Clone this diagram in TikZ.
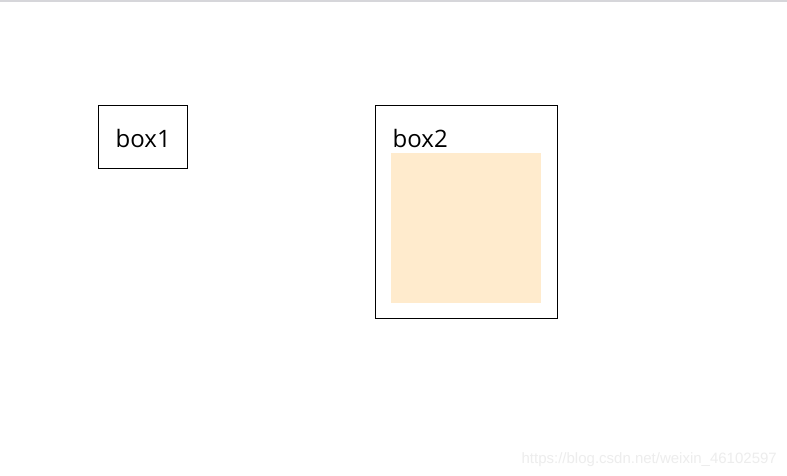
\documentclass[tikz,border=0pt]{standalone}
\usepackage{fontspec}
\setmainfont{Open Sans}
\newfontfamily\wmfont{Liberation Sans}
\definecolor{almond}{HTML}{FFEBCD}
\definecolor{topline}{HTML}{D6D6DA}
\definecolor{wmgray}{HTML}{EDEDED}
\tikzset{
  boxframe/.style={draw=black, line width=1pt},
  boxlabel/.style={anchor=base west, inner sep=0pt, font=\fontsize{24}{28}\selectfont, text=black},
}
\begin{document}
\begin{tikzpicture}[x=1pt, y=-1pt]
\useasboundingbox (0,0) rectangle (787,476);
\fill[white] (0,0) rectangle (787,476);
\fill[topline] (0,0.5) rectangle (787,2.5);
% box1
\draw[boxframe] (98.5,105.5) rectangle (187.5,168);
\node[boxlabel] (b1) at (115.5,147) {box1};
% box2
\draw[boxframe] (375.5,105.5) rectangle (557.5,318);
\fill[almond] (391,153) rectangle (541,302.5);
\node[boxlabel] (b2) at (392.5,147) {box2};
% watermark
\node[anchor=base east, inner sep=0pt, font=\wmfont\fontsize{15}{18}\selectfont, text=wmgray] (wm) at (777,463) {https://blog.csdn.net/weixin\_46102597};
\end{tikzpicture}
\end{document}
